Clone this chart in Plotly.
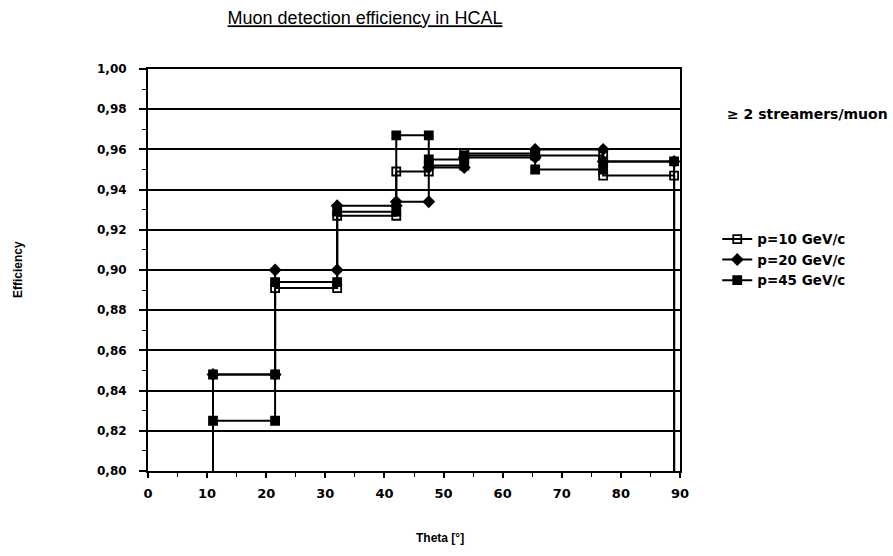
import plotly.graph_objects as go

# Theta bin edges [deg] and efficiency per bin for each muon momentum
theta_edges = [11, 21.5, 32, 42, 47.5, 53.5, 65.5, 77, 89]
eff_p10 = [0.848, 0.891, 0.927, 0.949, 0.952, 0.958, 0.957, 0.947]
eff_p20 = [0.848, 0.900, 0.932, 0.934, 0.951, 0.956, 0.960, 0.954]
eff_p45 = [0.825, 0.894, 0.929, 0.967, 0.955, 0.957, 0.950, 0.954]

series = [
    ("p=10 GeV/c", eff_p10, "square-open"),
    ("p=20 GeV/c", eff_p20, "diamond"),
    ("p=45 GeV/c", eff_p45, "square"),
]

y_min, y_max = 0.80, 1.00
y_ticks = [0.80, 0.82, 0.84, 0.86, 0.88, 0.90, 0.92, 0.94, 0.96, 0.98, 1.00]
y_ticktext = [f"{v:.2f}".replace(".", ",") for v in y_ticks]
x_ticks = [0, 10, 20, 30, 40, 50, 60, 70, 80, 90]

SANS = "Liberation Sans, Arial, sans-serif"
WIDE = "DejaVu Sans, Verdana, sans-serif"
LW = 2

fig = go.Figure()

for name, eff, symbol in series:
    xs, ys = [], []
    for i, v in enumerate(eff):
        xs += [theta_edges[i], theta_edges[i + 1]]
        ys += [v, v]
    fig.add_trace(go.Scatter(
        x=xs, y=ys, mode="lines+markers", name=name,
        line=dict(color="black", width=LW),
        marker=dict(symbol=symbol, size=8, color="black",
                    line=dict(color="black", width=1.8)),
    ))
    # drop lines to the axis at both ends of the theta range
    fig.add_trace(go.Scatter(
        x=[theta_edges[0], theta_edges[0]], y=[y_min, eff[0]],
        mode="lines", line=dict(color="black", width=LW), showlegend=False,
        hoverinfo="skip",
    ))
    fig.add_trace(go.Scatter(
        x=[theta_edges[-1], theta_edges[-1]], y=[eff[-1], y_min],
        mode="lines", line=dict(color="black", width=LW), showlegend=False,
        hoverinfo="skip",
    ))

fig.update_layout(
    width=893, height=556,
    margin=dict(l=148, r=213, t=69, b=85),
    paper_bgcolor="white", plot_bgcolor="white",
    font=dict(family=SANS, color="black"),
    title=dict(
        text="<u>Muon detection efficiency in HCAL</u>",
        x=365 / 893, xanchor="center", y=1 - 18 / 556, yanchor="middle",
        font=dict(family=SANS, size=18, color="black"),
    ),
    showlegend=True,
    legend=dict(
        x=1.07, y=0.615, xanchor="left", yanchor="top",
        bgcolor="rgba(0,0,0,0)",
        font=dict(size=13.5, color="black", family=WIDE, weight="bold"),
        itemwidth=30, tracegroupgap=0,
    ),
    xaxis=dict(
        range=[0, 90], tickvals=x_ticks, ticks="outside", ticklen=5,
        tickwidth=1.6, tickcolor="black", showgrid=False, zeroline=False,
        showline=True, linecolor="black", linewidth=2, mirror=True,
        tickfont=dict(size=13, family=WIDE, color="black", weight="bold"),
        ticklabelstandoff=4,
        minor=dict(dtick=5, tick0=0, ticks="outside", ticklen=4, tickcolor="black",
                   tickwidth=1.3),
    ),
    yaxis=dict(
        range=[y_min, y_max], tickvals=y_ticks, ticktext=y_ticktext,
        ticks="outside", ticklen=7, tickwidth=1.6, tickcolor="black",
        showgrid=True, gridcolor="black", gridwidth=2, zeroline=False,
        showline=True, linecolor="black", linewidth=2, mirror=True,
        tickfont=dict(size=12, family=WIDE, color="black", weight="bold"),
        ticklabelstandoff=10,
        minor=dict(dtick=0.01, tick0=0.80, ticks="outside", ticklen=4,
                   tickcolor="black", tickwidth=1.3, showgrid=False),
    ),
)

# axis titles and side note
fig.add_annotation(
    text="<b>Theta [°]</b>", xref="paper", yref="paper",
    x=(440 - 148) / 532, y=(471 - 538) / 402, xanchor="center", yanchor="middle",
    showarrow=False, font=dict(size=12, color="black", family=SANS),
)
fig.add_annotation(
    text="<b>Efficiency</b>", xref="paper", yref="paper", textangle=-90,
    x=(18 - 148) / 532, y=0.5, xanchor="center", yanchor="middle",
    showarrow=False, font=dict(size=12, color="black", family=SANS),
)
fig.add_annotation(
    text="<b>≥ 2 streamers/muon</b>", xref="paper", yref="paper",
    x=(725 - 148) / 532, y=(471 - 114) / 402,
    xanchor="left", yanchor="middle", showarrow=False,
    font=dict(size=14, color="black", family=WIDE),
)

fig.write_html("out.html")
